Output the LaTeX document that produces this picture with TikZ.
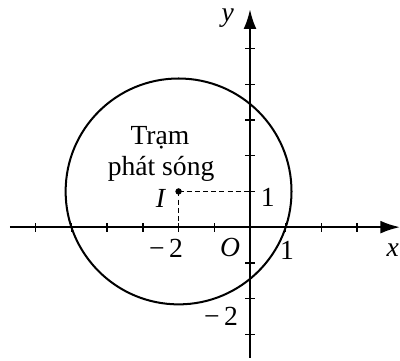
\documentclass[tikz,border=0pt]{standalone}
\usepackage{fontspec}
\setmainfont{Liberation Serif}
\usetikzlibrary{arrows.meta}
\begin{document}
\begin{tikzpicture}[
  axis/.style={line width=1.6pt,-{Latex[length=0.55cm,width=0.36cm]}},
  tickmark/.style={line width=1.2pt},
  lbl/.style={font=\fontsize{22}{26}\selectfont, inner sep=0pt},
  guide/.style={line width=1.2pt, dash pattern=on 4pt off 2.5pt},
  circ/.style={line width=1.6pt}
]
\useasboundingbox (-7,-3.73) rectangle (4.2,6.36);
\coordinate (O) at (0,0);
\coordinate (xs) at (-6.72,0);
\coordinate (xe) at (4.2,0);
\coordinate (ys) at (0,-3.65);
\coordinate (ye) at (0,6.1);
\coordinate (I) at (-2,1);
\coordinate (Ix) at (-2,0);
\coordinate (Iy) at (0,1);
\draw[axis] (xs) -- (xe);
\draw[axis] (ys) -- (ye);
\foreach \k in {-6,-5,-4,-3,-2,-1,1,2,3}
  \draw[tickmark] (\k,-0.13) -- (\k,0.13);
\foreach \k in {-3,-2,-1,1,2,3,4,5}
  \draw[tickmark] (-0.13,\k) -- (0.13,\k);
\draw[circ] (I) circle ({sqrt(10)});
\draw[guide] (I) -- (Iy);
\draw[guide] (I) -- (Ix);
\fill (I) circle (0.09);
\node[lbl] (ylab) at (-0.62,5.85) {\textit{y}};
\node[lbl] (xlab) at (4.0,-0.65) {\textit{x}};
\node[lbl] (olab) at (-0.56,-0.56) {\textit{O}};
\node[lbl] (m2x) at (-2.35,-0.6) {−\,2};
\node[lbl] (p1x) at (1.04,-0.64) {1};
\node[lbl] (p1y) at (0.5,0.84) {1};
\node[lbl] (m2y) at (-0.81,-2.5) {−\,2};
\node[lbl] (ilab) at (-2.49,0.81) {\textit{I}};
\node[lbl] (t1) at (-2.52,2.49) {Trạm};
\node[lbl] (t2) at (-2.49,1.62) {phát sóng};
\end{tikzpicture}
\end{document}
